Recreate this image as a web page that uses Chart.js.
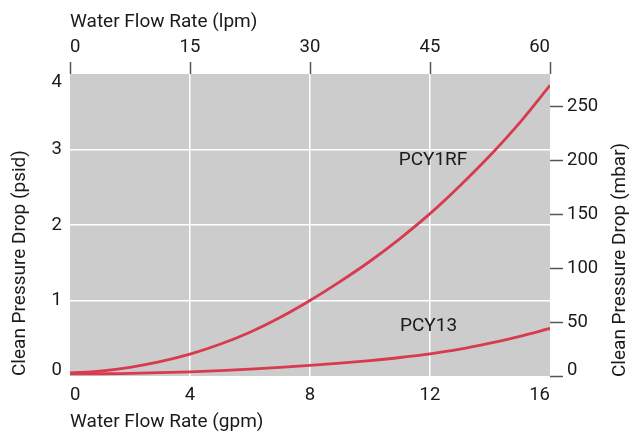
<!DOCTYPE html>
<html>
<head>
<meta charset="utf-8">
<script src="https://cdn.jsdelivr.net/npm/chart.js@4.4.1/dist/chart.umd.min.js"></script>
<style>
  body { margin: 0; background: #fff; }
  #wrap { width: 633px; height: 434px; }
</style>
</head>
<body>
<div id="wrap"><canvas id="chart" width="633" height="434"></canvas></div>
<script>
// flow in gpm, pressure drop in psid
var flowGpm = [0, 1, 2, 3, 4, 5, 6, 7, 8, 9, 10, 11, 12, 13, 14, 15, 16];
var pcy1rfPsid = [0.04, 0.065, 0.115, 0.19, 0.29, 0.42, 0.58, 0.775, 1.0, 1.25, 1.52, 1.82, 2.15, 2.52, 2.92, 3.36, 3.85];
var pcy13Psid = [0.03, 0.03, 0.035, 0.045, 0.055, 0.07, 0.09, 0.113, 0.14, 0.17, 0.205, 0.245, 0.293, 0.355, 0.435, 0.525, 0.63];

var gpmTicks = [0, 4, 8, 12, 16];
var lpmTicks = [0, 15, 30, 45, 60];
var psidTicks = [0, 1, 2, 3, 4];
var mbarTicks = [0, 50, 100, 150, 200, 250];

var seriesNames = ["PCY1RF", "PCY13"];

var FONT = "Roboto, 'Liberation Sans', sans-serif";
var RED = "#d83a4e";
var TEXT = "#1a1a1a";

function toPoints(ys) {
    return flowGpm.map(function (x, i) { return { x: x, y: ys[i] }; });
}

function setTicks(list) {
    return function (axis) {
        axis.ticks = list.map(function (v) { return { value: v }; });
    };
}

function innerGrid(lo, hi) {
    return function (c) {
        var v = c.tick ? c.tick.value : lo;
        return (v > lo && v < hi) ? "#ffffff" : "rgba(0,0,0,0)";
    };
}

// end labels of the vertical axes are nudged inside the plot, like the original
function edgeLabel(lo, hi) {
    return function (v) {
        if (v === lo) return [String(v), ""];
        if (v === hi) return ["", String(v)];
        return String(v);
    };
}
function edgeFont(lo, hi, loLh, hiLh) {
    return function (c) {
        var v = c.tick ? c.tick.value : null;
        var lh = v === lo ? loLh : (v === hi ? hiLh : 1.2);
        return { family: FONT, size: 18.5, lineHeight: lh };
    };
}

var plotBackground = {
    id: "plotBackground",
    beforeDraw: function (chart) {
        var a = chart.chartArea, ctx = chart.ctx;
        ctx.save();
        ctx.fillStyle = "#cccccc";
        ctx.fillRect(a.left, a.top, a.right - a.left, a.bottom - a.top);
        ctx.restore();
    }
};

// curve names and the right axis title (reads bottom to top like the left one)
var extraText = {
    id: "extraText",
    afterDraw: function (chart) {
        var ctx = chart.ctx, x = chart.scales.x, y = chart.scales.y;
        ctx.save();
        ctx.fillStyle = TEXT;
        ctx.font = "19px " + FONT;
        ctx.textAlign = "center";
        ctx.textBaseline = "middle";
        ctx.fillText(seriesNames[0], x.getPixelForValue(12.1), y.getPixelForValue(2.86));
        ctx.fillText(seriesNames[1], x.getPixelForValue(11.95), y.getPixelForValue(0.66));

        ctx.translate(620, chart.chartArea.bottom + 1);
        ctx.rotate(-Math.PI / 2);
        ctx.textAlign = "left";
        ctx.fillText("Clean Pressure Drop (mbar)", 0, 0);
        ctx.restore();
    }
};

new Chart(document.getElementById("chart"), {
    type: "line",
    data: {
        datasets: [{
            label: seriesNames[0],
            data: toPoints(pcy1rfPsid),
            borderColor: RED,
            borderWidth: 2.8,
            pointRadius: 0,
            cubicInterpolationMode: "monotone",
            xAxisID: "x",
            yAxisID: "y"
        }, {
            label: seriesNames[1],
            data: toPoints(pcy13Psid),
            borderColor: RED,
            borderWidth: 2.8,
            pointRadius: 0,
            cubicInterpolationMode: "monotone",
            xAxisID: "x",
            yAxisID: "y"
        }]
    },
    options: {
        responsive: false,
        animation: false,
        layout: { padding: 0 },
        plugins: {
            legend: { display: false },
            tooltip: { enabled: false }
        },
        scales: {
            x: {
                type: "linear",
                position: "bottom",
                min: 0,
                max: 16,
                afterBuildTicks: setTicks(gpmTicks),
                afterFit: function (s) { s.height = 58; },
                border: { display: false },
                grid: { color: innerGrid(0, 16), lineWidth: 1.5, drawTicks: false },
                ticks: { align: "inner", padding: 8, color: TEXT, font: { family: FONT, size: 18.5 }, maxRotation: 0 },
                title: {
                    display: true,
                    text: "Water Flow Rate (gpm)",
                    align: "start",
                    color: TEXT,
                    padding: { top: 1.5, bottom: 0 },
                    font: { family: FONT, size: 19 }
                }
            },
            x2: {
                type: "linear",
                position: "top",
                min: 0,
                max: 60,
                afterBuildTicks: setTicks(lpmTicks),
                afterFit: function (s) { s.height = 74; },
                border: { display: false },
                grid: { drawOnChartArea: false, drawTicks: true, tickLength: 12, tickColor: "#555555", tickWidth: 1.5 },
                ticks: { align: "inner", padding: 4, color: TEXT, font: { family: FONT, size: 18.5 }, maxRotation: 0 },
                title: {
                    display: true,
                    text: "Water Flow Rate (lpm)",
                    align: "start",
                    color: TEXT,
                    padding: { top: 11, bottom: 0 },
                    font: { family: FONT, size: 19 }
                }
            },
            y: {
                type: "linear",
                position: "left",
                min: 0,
                max: 4,
                afterBuildTicks: setTicks(psidTicks),
                afterFit: function (s) { s.width = 70; },
                border: { display: false },
                grid: { color: innerGrid(0, 4), lineWidth: 1.5, drawTicks: false },
                ticks: {
                    padding: 8,
                    color: TEXT,
                    callback: edgeLabel(0, 4),
                    font: edgeFont(0, 4, "12px", "16px")
                },
                title: {
                    display: true,
                    text: "Clean Pressure Drop (psid)",
                    align: "start",
                    color: TEXT,
                    padding: { top: 8.5, bottom: 0 },
                    font: { family: FONT, size: 19 }
                }
            },
            y2: {
                type: "linear",
                position: "right",
                min: 0,
                max: 280,
                afterBuildTicks: setTicks(mbarTicks),
                afterFit: function (s) { s.width = 83; },
                border: { display: false },
                grid: { drawOnChartArea: false, drawTicks: true, tickLength: 13, tickColor: "#555555", tickWidth: 1.5 },
                ticks: {
                    padding: 4,
                    color: TEXT,
                    callback: edgeLabel(0, null),
                    font: edgeFont(0, null, "12px", 1.2)
                },
                title: { display: false }
            }
        }
    },
    plugins: [plotBackground, extraText]
});
</script>
</body>
</html>
